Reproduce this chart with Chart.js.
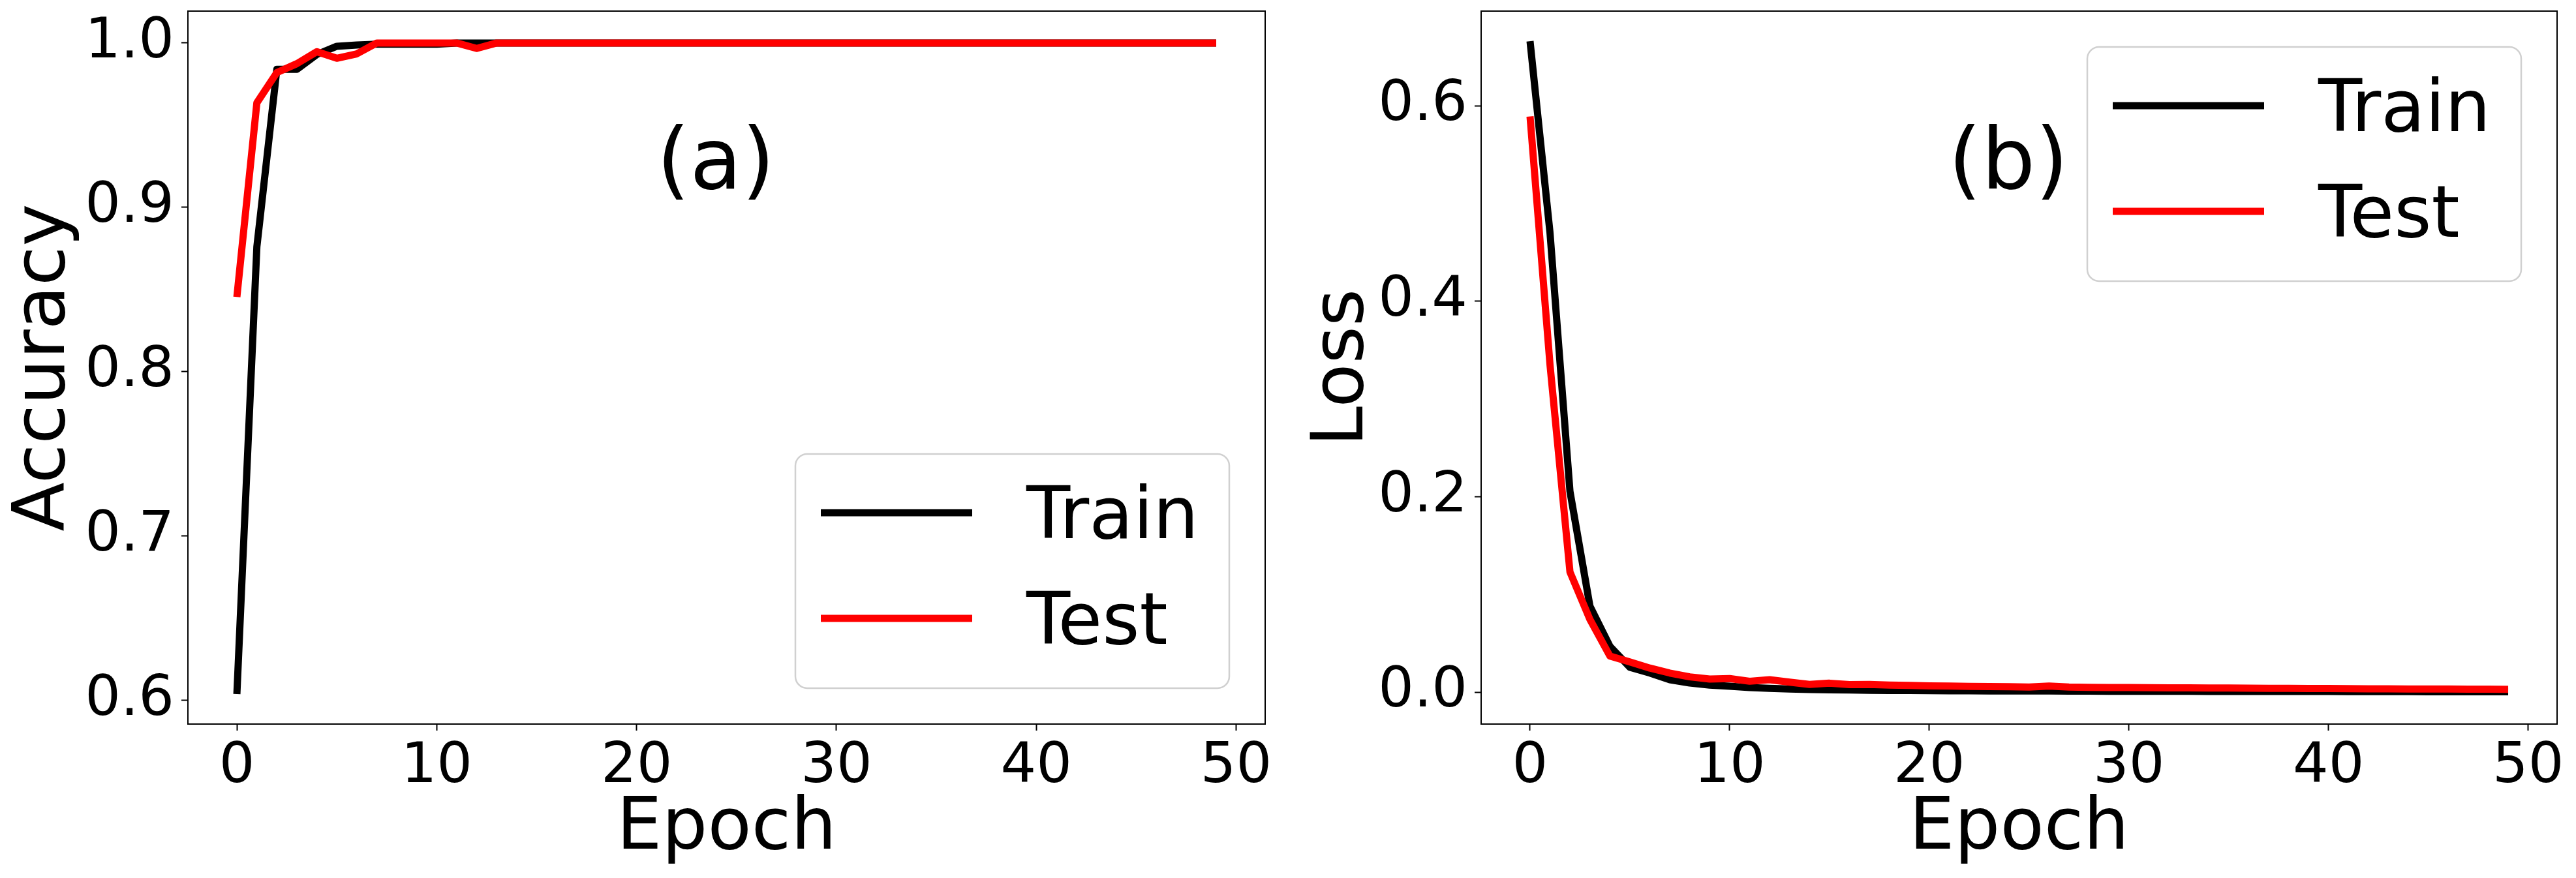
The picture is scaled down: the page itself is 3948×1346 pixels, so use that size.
<!DOCTYPE html>
<html>
<head>
<meta charset="utf-8">
<script src="https://cdn.jsdelivr.net/npm/chart.js@4.4.1/dist/chart.umd.min.js"></script>
<style>
  html, body { margin: 0; padding: 0; background: #fff; }
  body { width: 3948px; height: 1346px; position: relative; overflow: hidden; }
  canvas { position: absolute; top: 0; }
  #accChart { left: 0; }
  #lossChart { left: 1990px; }
</style>
</head>
<body>
<canvas id="accChart" width="1980" height="1346"></canvas>
<canvas id="lossChart" width="1958" height="1346"></canvas>
<script>
// Training history (50 epochs)
const epochs = [0, 1, 2, 3, 4, 5, 6, 7, 8, 9, 10, 11, 12, 13, 14, 15, 16, 17, 18, 19,
    20, 21, 22, 23, 24, 25, 26, 27, 28, 29, 30, 31, 32, 33, 34, 35, 36, 37, 38, 39,
    40, 41, 42, 43, 44, 45, 46, 47, 48, 49];

const accTrain = [0.604, 0.876, 0.984, 0.984, 0.993, 0.998, 0.9988, 0.9993, 0.9993, 0.9993,
    0.9993, 1.0, 1.0, 1.0, 1.0, 1.0, 1.0, 1.0, 1.0, 1.0,
    1.0, 1.0, 1.0, 1.0, 1.0, 1.0, 1.0, 1.0, 1.0, 1.0,
    1.0, 1.0, 1.0, 1.0, 1.0, 1.0, 1.0, 1.0, 1.0, 1.0,
    1.0, 1.0, 1.0, 1.0, 1.0, 1.0, 1.0, 1.0, 1.0, 1.0];

const accTest = [0.8455, 0.9636, 0.982, 0.9874, 0.9947, 0.9907, 0.9934, 1.0, 1.0, 1.0,
    1.0, 1.0, 0.9967, 1.0, 1.0, 1.0, 1.0, 1.0, 1.0, 1.0,
    1.0, 1.0, 1.0, 1.0, 1.0, 1.0, 1.0, 1.0, 1.0, 1.0,
    1.0, 1.0, 1.0, 1.0, 1.0, 1.0, 1.0, 1.0, 1.0, 1.0,
    1.0, 1.0, 1.0, 1.0, 1.0, 1.0, 1.0, 1.0, 1.0, 1.0];

const lossTrain = [0.666, 0.470, 0.2055, 0.088, 0.047, 0.0255, 0.0196, 0.0128, 0.0094, 0.0072,
    0.0061, 0.0047, 0.0040, 0.0033, 0.0028, 0.0025, 0.0022, 0.0020, 0.0018, 0.0017,
    0.0016, 0.0015, 0.0014, 0.0013, 0.0013, 0.0012, 0.0013, 0.0011, 0.0011, 0.0010,
    0.0010, 0.0009, 0.0009, 0.0009, 0.0008, 0.0008, 0.0008, 0.0007, 0.0007, 0.0007,
    0.0007, 0.0006, 0.0006, 0.0006, 0.0006, 0.0005, 0.0005, 0.0005, 0.0005, 0.0005];

const lossTest = [0.589, 0.335, 0.123, 0.0745, 0.037, 0.031, 0.0247, 0.0196, 0.0157, 0.0135,
    0.0139, 0.0112, 0.0128, 0.0103, 0.0080, 0.0092, 0.0078, 0.0079, 0.0073, 0.0070,
    0.0064, 0.0062, 0.0060, 0.0058, 0.0056, 0.0053, 0.0062, 0.0052, 0.0050, 0.0048,
    0.0047, 0.0046, 0.0045, 0.0044, 0.0043, 0.0042, 0.0041, 0.0040, 0.0039, 0.0038,
    0.0037, 0.0036, 0.0035, 0.0034, 0.0033, 0.0033, 0.0032, 0.0031, 0.0031, 0.0030];

const xTicks = [0, 10, 20, 30, 40, 50];
const accTicks = [0.6, 0.7, 0.8, 0.9, 1.0];
const lossTicks = [0.0, 0.2, 0.4, 0.6];
const seriesLabels = ['Train', 'Test'];
const seriesColors = ['#000000', '#ff0000'];

Chart.defaults.font.family = 'DejaVu Sans';
Chart.defaults.color = '#000';

// black box round the plot area, like matplotlib spines
const framePlugin = {
    id: 'frame',
    afterDatasetsDraw(chart) {
        const { ctx, chartArea: a } = chart;
        ctx.save();
        ctx.strokeStyle = '#000';
        ctx.lineWidth = 2;
        ctx.strokeRect(a.left, a.top, a.right - a.left, a.bottom - a.top);
        ctx.restore();
    }
};

// legend inside a rounded grey box
const boxLegend = {
    id: 'boxLegend',
    afterDraw(chart, args, opts) {
        const { ctx, chartArea: a } = chart;
        const w = 665, h = 359, gap = 55, r = 18;
        const left = a.right - gap - w;
        const top = opts.place === 'bottom' ? a.bottom - gap - h : a.top + gap;
        ctx.save();
        ctx.beginPath();
        ctx.moveTo(left + r, top);
        ctx.lineTo(left + w - r, top);
        ctx.arcTo(left + w, top, left + w, top + r, r);
        ctx.lineTo(left + w, top + h - r);
        ctx.arcTo(left + w, top + h, left + w - r, top + h, r);
        ctx.lineTo(left + r, top + h);
        ctx.arcTo(left, top + h, left, top + h - r, r);
        ctx.lineTo(left, top + r);
        ctx.arcTo(left, top, left + r, top, r);
        ctx.closePath();
        ctx.fillStyle = 'rgba(255,255,255,0.8)';
        ctx.fill();
        ctx.strokeStyle = '#d0d0d0';
        ctx.lineWidth = 2.5;
        ctx.stroke();

        chart.data.datasets.forEach((ds, i) => {
            const y = top + 90 + i * 162;
            ctx.beginPath();
            ctx.moveTo(left + 39, y);
            ctx.lineTo(left + 271, y);
            ctx.strokeStyle = ds.borderColor;
            ctx.lineWidth = ds.borderWidth;
            ctx.stroke();
            ctx.fillStyle = '#000';
            ctx.font = '110px "DejaVu Sans"';
            ctx.textAlign = 'left';
            ctx.textBaseline = 'alphabetic';
            ctx.fillText(ds.label, left + 354, y + 39);
        });
        ctx.restore();
    }
};

// panel tag "(a)" / "(b)"
const panelTag = {
    id: 'panelTag',
    afterDraw(chart, args, opts) {
        const { ctx, chartArea: a } = chart;
        ctx.save();
        ctx.fillStyle = '#000';
        ctx.font = '130px "DejaVu Sans"';
        ctx.textAlign = 'center';
        ctx.textBaseline = 'alphabetic';
        ctx.fillText(opts.text, a.left + 0.49 * (a.right - a.left), a.top + 272);
        ctx.restore();
    }
};

const toPoints = vals => vals.map((v, i) => ({ x: epochs[i], y: v }));

function makeChart(id, cfg) {
    const datasets = [cfg.train, cfg.test].map((vals, i) => ({
        label: seriesLabels[i],
        data: toPoints(vals),
        borderColor: seriesColors[i],
        backgroundColor: seriesColors[i],
        borderWidth: 11,
        borderJoinStyle: 'round',
        borderCapStyle: 'butt',
        pointRadius: 0,
        tension: 0,
        order: i === 0 ? 1 : 0   // red line on top
    }));

    const tickFont = { family: 'DejaVu Sans', size: 86 };
    const titleFont = { family: 'DejaVu Sans', size: 110 };

    return new Chart(document.getElementById(id), {
        type: 'line',
        data: { datasets },
        plugins: [framePlugin, boxLegend, panelTag],
        options: {
            responsive: false,
            devicePixelRatio: 1,
            animation: false,
            layout: { padding: { top: 17, right: cfg.padRight, left: 0, bottom: 0 } },
            plugins: {
                legend: { display: false },
                tooltip: { enabled: false },
                boxLegend: { place: cfg.legendPlace },
                panelTag: { text: cfg.tag }
            },
            scales: {
                x: {
                    type: 'linear',
                    min: -2.45,
                    max: 51.45,
                    afterBuildTicks: s => { s.ticks = xTicks.map(v => ({ value: v })); },
                    afterFit: s => {
                        s.height = 236;
                        s.paddingLeft = 0; s.paddingRight = 0;
                    },
                    border: { display: false },
                    grid: {
                        drawOnChartArea: false, drawTicks: true,
                        tickLength: 10, tickWidth: 2, tickColor: '#000'
                    },
                    ticks: { font: tickFont, color: '#000', padding: 5, maxRotation: 0,
                             callback: v => String(v) },
                    title: { display: true, text: 'Epoch', font: titleFont, color: '#000',
                             padding: { top: 0, bottom: 8 } }
                },
                y: {
                    type: 'linear',
                    min: cfg.yMin,
                    max: cfg.yMax,
                    afterBuildTicks: s => { s.ticks = cfg.yTicks.map(v => ({ value: v })); },
                    afterFit: s => {
                        s.width = cfg.yWidth;
                        s.paddingTop = 0; s.paddingBottom = 0;
                    },
                    border: { display: false },
                    grid: {
                        drawOnChartArea: false, drawTicks: true,
                        tickLength: 10, tickWidth: 2, tickColor: '#000'
                    },
                    ticks: { font: tickFont, color: '#000', padding: 11,
                             callback: v => v.toFixed(1) },
                    title: { display: true, text: cfg.yLabel, font: titleFont, color: '#000',
                             padding: { top: 3, bottom: 0 } }
                }
            }
        }
    });
}

makeChart('accChart', {
    train: accTrain, test: accTest,
    yLabel: 'Accuracy', yMin: 0.5857, yMax: 1.0194, yTicks: accTicks,
    legendPlace: 'bottom', tag: '(a)', yWidth: 288, padRight: 41
});

makeChart('lossChart', {
    train: lossTrain, test: lossTest,
    yLabel: 'Loss', yMin: -0.0326, yMax: 0.6968, yTicks: lossTicks,
    legendPlace: 'top', tag: '(b)', yWidth: 280, padRight: 29
});
</script>
</body>
</html>
